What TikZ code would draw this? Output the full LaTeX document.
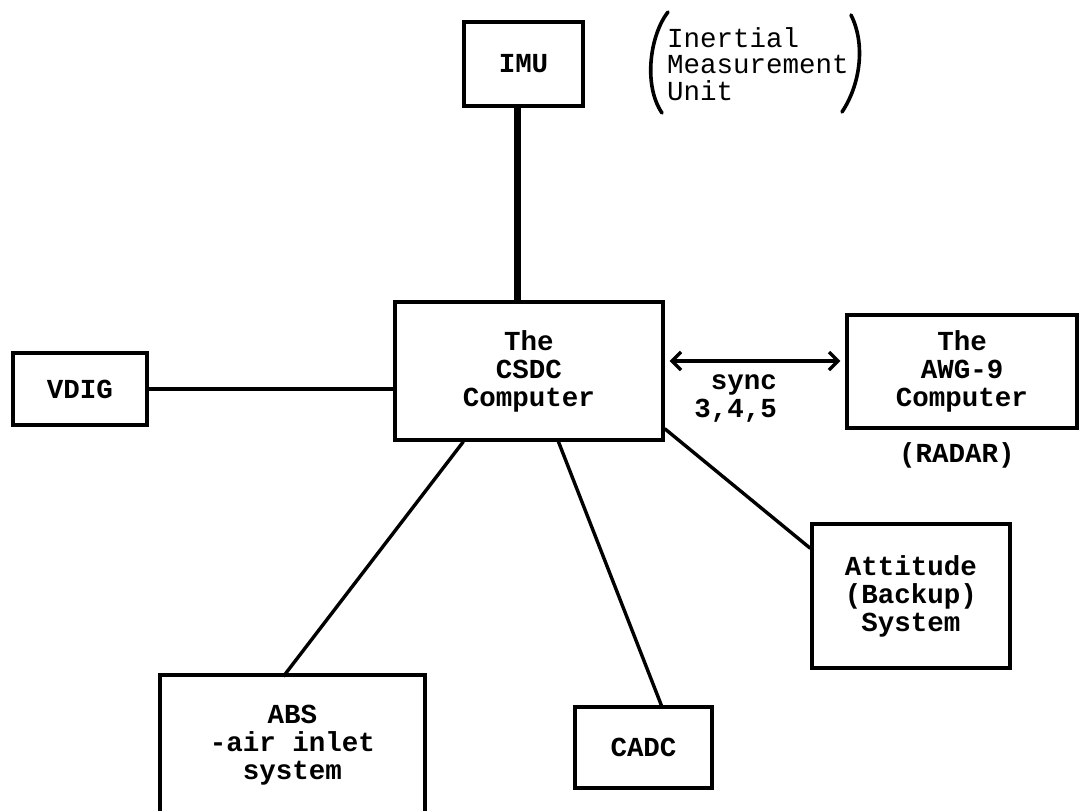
\documentclass[tikz,border=0pt]{standalone}
\usepackage{fontspec}
\setmainfont{Liberation Mono}
\usetikzlibrary{calc,arrows.meta}
\begin{document}
\begin{tikzpicture}[x=1pt,y=-1pt,
  box/.style={draw, line width=3.2pt, inner sep=0pt, align=center,
    font=\bfseries\fontsize{27.5}{28}\selectfont},
  link/.style={line width=3.4pt},
  heavy/.style={line width=6.5pt},
  paren/.style={line width=3.6pt, line cap=round},
  lbl/.style={inner sep=0pt, font=\bfseries\fontsize{27.5}{28}\selectfont}]
\useasboundingbox (0,0) rectangle (1080,811);
\clip (0,0) rectangle (1080,811);

% boxes
\node[box, minimum width=119pt, minimum height=84pt]  (imu)  at (523.5,64)  {IMU};
\node[box, minimum width=268pt, minimum height=138pt] (csdc) at (529,371)   {The\\CSDC\\Computer};
\node[box, minimum width=134pt, minimum height=72pt]  (vdig) at (80,389)    {VDIG};
\node[box, minimum width=230pt, minimum height=113pt] (awg)  at (962,371.5) {The\\AWG-9\\Computer};
\node[box, minimum width=198pt, minimum height=144pt] (att)  at (911,596)   {Attitude\\(Backup)\\System};
\node[box, minimum width=265pt, minimum height=140pt] (abs)  at (292.5,745) {ABS\\-air inlet\\system};
\node[box, minimum width=137pt, minimum height=81pt]  (cadc) at (643.5,747.5) {CADC};

% labels
\node[lbl, align=left, anchor=west, font=\fontsize{27.5}{26.5}\selectfont] (imulbl) at (667,64)
  {Inertial\\Measurement\\Unit};
\node[lbl, align=right, anchor=east] (sync) at (777,399) {sync\\3,4,5};
\node[lbl] (radar) at (957,455) {(RADAR)};

% brackets round the IMU label
\draw[paren] (668,12) .. controls (650,35) and (643,85) .. (662,113);
\draw[paren] (851,15) .. controls (866,45) and (860,85) .. (842,112);

% connections
\draw[heavy] ($(imu.south)+(-6,0)$) coordinate (imuout) -- (imuout |- csdc.north);
\draw[link] (vdig.east) -- (vdig.east -| csdc.west);
\draw[link, {Straight Barb[length=9pt,width=18pt]}-{Straight Barb[length=9pt,width=18pt]},
  shorten <=5pt, shorten >=5pt]
  ($(csdc.east)+(0,-10)$) coordinate (syncl) -- (syncl -| awg.west);
\draw[link] ($(csdc.south east)+(0,-13)$) -- ($(att.north west)+(0,26)$);
\draw[link] ($(csdc.south west)+(70,0)$) -- ($(abs.north west)+(125,3)$);
\draw[link] ($(csdc.south west)+(165,0)$) -- ($(cadc.north west)+(88,0)$);
\end{tikzpicture}
\end{document}
